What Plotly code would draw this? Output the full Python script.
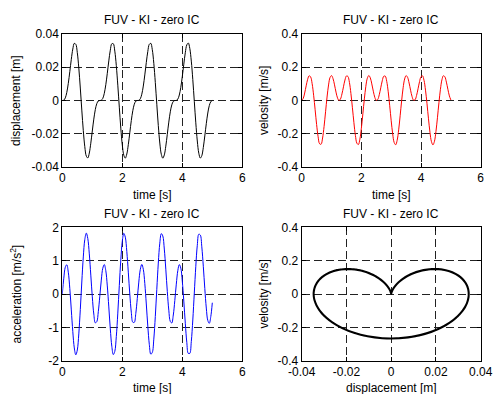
import plotly.graph_objects as go

# time samples [s]
t = [round(0.05 * i, 2) for i in range(101)]

# displacement [m]
disp = [0.0, 0.000205, 0.001567, 0.004883, 0.010328, 0.017348, 0.024749, 0.030955, 0.034382, 0.033824,
        0.028781, 0.019609, 0.007498, -0.005761, -0.018137, -0.027783, -0.033415, -0.034556, -0.031602, -0.025678,
        -0.018341, -0.011189, -0.005488, -0.001884, -0.000297, 0.0, 0.000134, 0.001286, 0.004317, 0.009495,
        0.016363, 0.0238, 0.030259, 0.034136, 0.034154, 0.029705, 0.021029, 0.009215, -0.004007, -0.016615,
        -0.026713, -0.032924, -0.034657, -0.032195, -0.026581, -0.019337, -0.012077, -0.006131, -0.002237, -0.000412,
        -0.000004, 0.000082, 0.001038, 0.00379, 0.008693, 0.015389, 0.022833, 0.029517, 0.033821, 0.034404,
        0.030553, 0.022393, 0.010907, -0.002243, -0.015048, -0.025574, -0.032354, -0.034683, -0.032733, -0.027457,
        -0.020333, -0.01299, -0.006811, -0.002628, -0.000553, -0.000013, 0.000045, 0.000823, 0.003301, 0.007924,
        0.014428, 0.021853, 0.028733, 0.03344, 0.034574, 0.031324, 0.023697, 0.012568, -0.000473, -0.013441,
        -0.024367, -0.031703, -0.034633, -0.033211, -0.028299, -0.021326, -0.013923, -0.007527, -0.003057, -0.000722,
        -0.000031]

# velocity [m/s]
vel = [0.0, 0.01219, 0.04503, 0.08824, 0.12769, 0.14905, 0.14161, 0.10122, 0.03171, -0.05572,
       -0.14482, -0.218, -0.26035, -0.26309, -0.22566, -0.15582, -0.06784, 0.02082, 0.0935, 0.13814,
       0.14988, 0.13185, 0.09402, 0.05045, 0.01553, 0.00022, 0.00923, 0.03979, 0.08239, 0.1232,
       0.1477, 0.14448, 0.10842, 0.04227, -0.04363, -0.13354, -0.20979, -0.2569, -0.26511, -0.23274,
       -0.16649, -0.07994, 0.00964, 0.08526, 0.13408, 0.15019, 0.13566, 0.0997, 0.05603, 0.01922,
       0.00088, 0.00666, 0.03478, 0.07651, 0.11842, 0.14584, 0.14676, 0.11509, 0.05248, -0.03162,
       -0.12201, -0.20106, -0.25274, -0.26641, -0.23922, -0.17681, -0.092, -0.00179, 0.07655, 0.12944,
       0.14994, 0.13908, 0.10524, 0.06173, 0.02324, 0.00198, 0.00449, 0.03001, 0.07064, 0.11339,
       0.14352, 0.14846, 0.12119, 0.06231, -0.01972, -0.11028, -0.19183, -0.24791, -0.26697, -0.24506,
       -0.18672, -0.10396, -0.01344, 0.06738, 0.12421, 0.14913, 0.14209, 0.1106, 0.06753, 0.02758,
       0.0035]

# acceleration [m/s^2]
acc = [0.0, 0.4749, 0.8034, 0.8767, 0.6522, 0.1655, -0.4774, -1.1251, -1.6173, -1.8244,
       -1.6796, -1.1967, -0.4672, 0.3594, 1.1112, 1.6337, 1.826, 1.6634, 1.2027, 0.5667,
       -0.0862, -0.601, -0.864, -0.8295, -0.5298, -0.0664, 0.4173, 0.7727, 0.8839, 0.6987,
       0.242, -0.3883, -1.0447, -1.5661, -1.8165, -1.7195, -1.2777, -0.5733, 0.2502, 1.0217,
       1.5819, 1.8212, 1.7041, 1.2771, 0.6557, -0.0044, -0.5453, -0.8461, -0.8508, -0.5818,
       -0.1324, 0.3575, 0.7376, 0.8858, 0.7402, 0.3154, -0.2996, -0.962, -1.51, -1.8023,
       -1.7531, -1.3539, -0.6772, 0.1402, 0.9283, 1.5243, 1.81, 1.7393, 1.3481, 0.744,
       0.0796, -0.4853, -0.8228, -0.8672, -0.6305, -0.1977, 0.2956, 0.6983, 0.8825, 0.7768,
       0.3853, -0.2117, -0.8771, -1.4493, -1.782, -1.7804, -1.4252, -0.7786, 0.0295, 0.8315,
       1.4611, 1.7924, 1.7687, 1.4152, 0.8312, 0.1654, -0.4212, -0.7942, -0.8785, -0.6757,
       -0.2619]

# tick values / labels
time_ticks = [0, 2, 4, 6]
time_ticktext = ["0", "2", "4", "6"]
disp_ticks = [-0.04, -0.02, 0, 0.02, 0.04]
disp_ticktext = ["-0.04", "-0.02", "0", "0.02", "0.04"]
vel_ticks = [-0.4, -0.2, 0, 0.2, 0.4]
vel_ticktext = ["-0.4", "-0.2", "0", "0.2", "0.4"]
acc_ticks = [-2, -1, 0, 1, 2]
acc_ticktext = ["-2", "-1", "0", "1", "2"]

title_text = "FUV - KI - zero IC"

W, H = 493, 394
FONT = "Liberation Sans, Arial, sans-serif"

fig = go.Figure()
fig.add_trace(go.Scatter(x=t, y=disp, mode="lines", line=dict(color="black", width=1, shape="spline"),
                         xaxis="x", yaxis="y"))
fig.add_trace(go.Scatter(x=t, y=vel, mode="lines", line=dict(color="red", width=1, shape="spline"),
                         xaxis="x2", yaxis="y2"))
fig.add_trace(go.Scatter(x=t, y=acc, mode="lines", line=dict(color="blue", width=1, shape="spline"),
                         xaxis="x3", yaxis="y3"))
fig.add_trace(go.Scatter(x=disp, y=vel, mode="lines", line=dict(color="black", width=2, shape="spline"),
                         xaxis="x4", yaxis="y4"))

# axes boxes in pixels (left, right, top, bottom)
boxes = {
    1: (62.3, 242.3, 34.0, 167.0),
    2: (301.7, 480.7, 34.0, 167.0),
    3: (62.3, 242.3, 227.3, 360.7),
    4: (301.7, 480.7, 227.3, 360.7),
}

def ax_common(rng, tv, tt):
    return dict(range=rng, tickvals=tv, ticktext=tt, showline=True, linecolor="black", linewidth=1,
                mirror="ticks", ticks="inside", ticklen=4, tickcolor="black", showgrid=True,
                gridcolor="#222222", gridwidth=1, griddash="8px,4px", zeroline=False, automargin=False,
                tickfont=dict(family=FONT, size=12, color="black"), fixedrange=True)

specs = {
    1: ([0, 6], time_ticks, time_ticktext, [-0.04, 0.04], disp_ticks, disp_ticktext),
    2: ([0, 6], time_ticks, time_ticktext, [-0.4, 0.4], vel_ticks, vel_ticktext),
    3: ([0, 6], time_ticks, time_ticktext, [-2, 2], acc_ticks, acc_ticktext),
    4: ([-0.04, 0.04], disp_ticks, disp_ticktext, [-0.4, 0.4], vel_ticks, vel_ticktext),
}

layout = dict(template="none", width=W, height=H, margin=dict(l=0, r=0, t=0, b=0, pad=0), showlegend=False,
              paper_bgcolor="white", plot_bgcolor="white", font=dict(family=FONT, size=12, color="black"))
for i, (l, r, tp, b) in boxes.items():
    xr, xtv, xtt, yr, ytv, ytt = specs[i]
    xa = ax_common(xr, xtv, xtt)
    ya = ax_common(yr, ytv, ytt)
    sfx = "" if i == 1 else str(i)
    xa.update(domain=[l / W, r / W], anchor="y" + sfx)
    ya.update(domain=[1 - b / H, 1 - tp / H], anchor="x" + sfx)
    layout["xaxis" + sfx] = xa
    layout["yaxis" + sfx] = ya
fig.update_layout(**layout)

xlabels = {1: "time [s]", 2: "time [s]", 3: "time [s]", 4: "displacement [m]"}
ylabels = {1: "displacement [m]", 2: "velosity [m/s]", 3: "acceleration [m/s<sup>2</sup>]", 4: "velosity [m/s]"}
ylabel_x = {1: 15.5, 2: 263.5, 3: 15.5, 4: 263.5}

anns = []
for i, (l, r, tp, b) in boxes.items():
    cx = (l + r) / 2
    anns.append(dict(text=title_text, x=cx / W, y=1 - (tp - 13.5) / H, xref="paper", yref="paper",
                     showarrow=False, xanchor="center", yanchor="middle",
                     font=dict(family=FONT, size=12, color="black")))
    anns.append(dict(text=xlabels[i], x=cx / W, y=1 - (b + 27.5) / H, xref="paper", yref="paper",
                     showarrow=False, xanchor="center", yanchor="middle",
                     font=dict(family=FONT, size=12, color="black")))
    anns.append(dict(text=ylabels[i], x=ylabel_x[i] / W, y=1 - ((tp + b) / 2) / H, xref="paper", yref="paper",
                     showarrow=False, xanchor="center", yanchor="middle", textangle=-90,
                     font=dict(family=FONT, size=12, color="black")))
fig.update_layout(annotations=anns)

fig.write_html("out.html", config={"displayModeBar": False},
               post_script="document.body.style.margin='0';document.body.style.overflow='hidden';")
